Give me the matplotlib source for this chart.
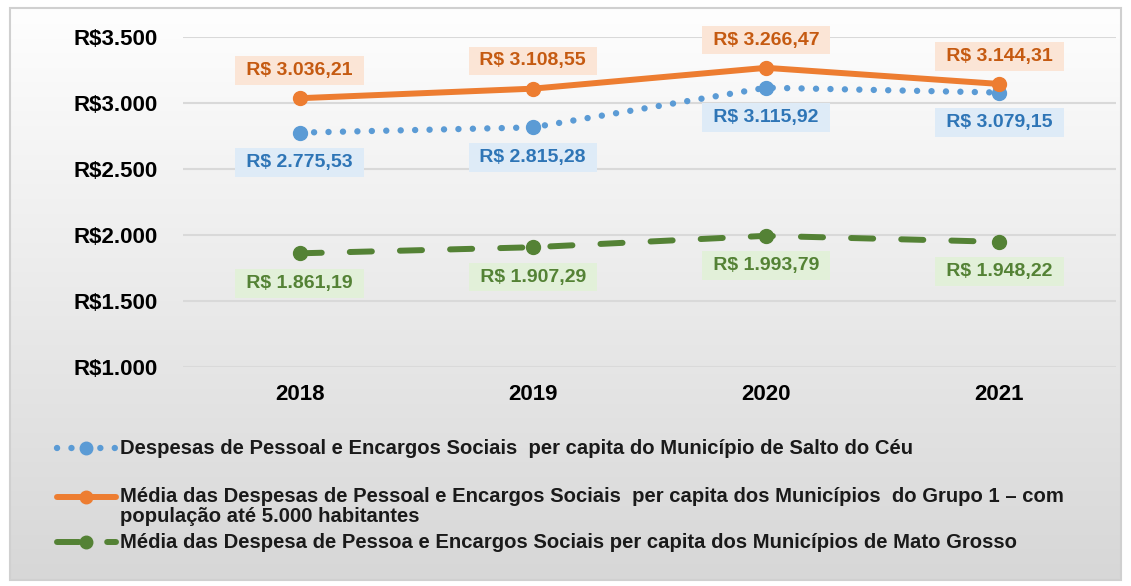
#!/usr/bin/env python3
"""Despesas de pessoal per capita: Salto do Céu vs médias (2018-2021)."""

import matplotlib

matplotlib.use("Agg")
import matplotlib.pyplot as plt
import numpy as np
from matplotlib.lines import Line2D
from matplotlib.patches import Rectangle

plt.rcParams["font.family"] = ["Liberation Sans", "DejaVu Sans"]

years = ["2018", "2019", "2020", "2021"]
salto_do_ceu = [2775.53, 2815.28, 3115.92, 3079.15]
grupo1 = [3036.21, 3108.55, 3266.47, 3144.31]
mato_grosso = [1861.19, 1907.29, 1993.79, 1948.22]

yticks = [1000, 1500, 2000, 2500, 3000, 3500]

legend_labels = [
    "Despesas de Pessoal e Encargos Sociais  per capita do Município de Salto do Céu",
    "Média das Despesas de Pessoal e Encargos Sociais  per capita dos Municípios  do Grupo 1 – com\npopulação até 5.000 habitantes",
    "Média das Despesa de Pessoa e Encargos Sociais per capita dos Municípios de Mato Grosso",
]

BLUE, BLUE_TXT, BLUE_BG = "#5b9bd5", "#2e75b6", "#deebf7"
ORANGE, ORANGE_TXT, ORANGE_BG = "#ed7d31", "#c55a11", "#fbe5d6"
GREEN, GREEN_TXT, GREEN_BG = "#548235", "#548235", "#e2f0d9"


def brl(v):
    s = f"{v:,.2f}".replace(",", "X").replace(".", ",").replace("X", ".")
    return f" R$ {s} "


W, H = 1131, 586
fig = plt.figure(figsize=(W / 100, H / 100), dpi=100)

# gradient background with light border
bg = fig.add_axes([0, 0, 1, 1], zorder=0)
bg.set_xlim(0, W)
bg.set_ylim(H, 0)
bg.axis("off")
grad = np.linspace(0, 1, 256).reshape(-1, 1)
bg.imshow(grad, cmap=matplotlib.colors.LinearSegmentedColormap.from_list("g", ["#fefefe", "#d7d7d7"]),
          extent=[10, 1121, 580, 8], aspect="auto")
bg.add_patch(Rectangle((10, 8), 1111, 572, fill=False, edgecolor="#d0d0d0", linewidth=1.5))

ax = fig.add_axes([183 / W, 1 - 367 / H, (1116 - 183) / W, (367 - 37) / H], zorder=1)
ax.patch.set_alpha(0)
x = np.arange(len(years))

lw = 4.3
blue_ls = dict(color=BLUE, linewidth=4.6, linestyle=(0, (0.01, 2.25)), dash_capstyle="round")
orange_ls = dict(color=ORANGE, linewidth=lw, solid_capstyle="round")
green_ls = dict(color=GREEN, linewidth=lw, linestyle=(0, (3.7, 4.7)), dash_capstyle="round")

ax.plot(x, salto_do_ceu, marker="o", markersize=10, zorder=3, **blue_ls)
ax.plot(x, grupo1, marker="o", markersize=10, zorder=4, **orange_ls)
ax.plot(x, mato_grosso, marker="o", markersize=10, zorder=3, **green_ls)

ax.set_xlim(-0.5, len(years) - 0.5)
ax.set_ylim(1000, 3500)
ax.set_yticks(yticks)
ax.set_yticklabels([f"R${v:,}".replace(",", ".") for v in yticks])
ax.set_xticks(x)
ax.set_xticklabels(years)
ax.tick_params(axis="y", length=0, pad=18, labelsize=16)
ax.tick_params(axis="x", length=0, pad=12, labelsize=16)
for lab in ax.get_xticklabels() + ax.get_yticklabels():
    lab.set_fontweight("bold")
ax.grid(True, axis="y", color="#d9d9d9", linewidth=1.5)
ax.set_axisbelow(True)
for s in ax.spines.values():
    s.set_visible(False)


def labels(values, dy, txt, bgc):
    for xi, v in zip(x, values):
        ax.annotate(brl(v), (xi, v), xytext=(0, dy), textcoords="offset points",
                    ha="center", va="center", fontsize=14, fontweight="bold", color=txt,
                    bbox=dict(boxstyle="square,pad=0.3", facecolor=bgc, edgecolor="none"),
                    zorder=5)


labels(grupo1, 20, ORANGE_TXT, ORANGE_BG)
labels(salto_do_ceu, -21.5, BLUE_TXT, BLUE_BG)
labels(mato_grosso, -21.5, GREEN_TXT, GREEN_BG)

# legend drawn below the plot
leg_y = [448, 497, 542]
for y, st, lab in zip(leg_y, [blue_ls, orange_ls, green_ls], legend_labels):
    bg.add_line(Line2D([57, 116], [y, y], zorder=3, **st))
    bg.add_line(Line2D([86], [y], marker="o", markersize=9, color=st["color"], linestyle="none", zorder=4))
    multi = "\n" in lab
    bg.text(120, y - 10 if multi else y, lab, ha="left", va="top" if multi else "center",
            fontsize=14.6, fontweight="bold", color="#1a1a1a", linespacing=1.1)

fig.savefig("out.png", dpi=100)
